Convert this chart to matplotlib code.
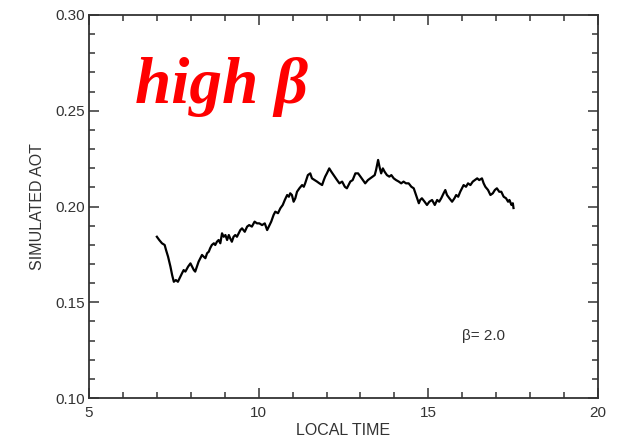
import matplotlib
matplotlib.use("Agg")
import matplotlib.pyplot as plt
from matplotlib.ticker import MultipleLocator

local_time = [
    7.00, 7.07, 7.15, 7.23, 7.27, 7.33, 7.40, 7.45, 7.50, 7.56, 7.62, 7.69, 7.74, 7.79,
    7.84, 7.92, 7.99, 8.04, 8.09, 8.13, 8.18, 8.23, 8.28, 8.33, 8.38, 8.43, 8.48, 8.53,
    8.57, 8.62, 8.68, 8.72, 8.77, 8.82, 8.87, 8.92, 8.97, 9.02, 9.07, 9.12, 9.16, 9.21,
    9.26, 9.31, 9.36, 9.41, 9.46,
    9.51, 9.59, 9.66, 9.72, 9.80, 9.88, 9.95, 10.02, 10.10, 10.18, 10.25, 10.30, 10.37,
    10.44, 10.49, 10.57, 10.64, 10.71, 10.77, 10.84, 10.89, 10.93, 10.98, 11.03, 11.08,
    11.13, 11.20, 11.28, 11.33, 11.37, 11.45, 11.52, 11.57, 11.65, 11.72, 11.79, 11.87,
    11.92, 11.96, 12.01, 12.08, 12.14,
    12.24, 12.31, 12.38, 12.46, 12.54, 12.60, 12.65, 12.70, 12.77, 12.85, 12.93, 13.00,
    13.07, 13.14, 13.22, 13.29, 13.36, 13.42, 13.46, 13.52, 13.56, 13.61, 13.66, 13.71,
    13.78, 13.85, 13.91, 13.98, 14.05, 14.13, 14.20, 14.27, 14.34, 14.42, 14.50, 14.57,
    14.62, 14.67, 14.72, 14.76,
    14.81, 14.89, 14.96, 15.03, 15.11, 15.19, 15.26, 15.32, 15.38, 15.45, 15.50, 15.55,
    15.62, 15.70, 15.77, 15.82, 15.88, 15.94, 15.99, 16.04, 16.11, 16.17, 16.24, 16.31,
    16.37, 16.44, 16.50, 16.58, 16.63, 16.68, 16.76, 16.83, 16.90, 16.96, 17.02, 17.09,
    17.15, 17.22, 17.29, 17.35, 17.39, 17.45, 17.49, 17.51]
simulated_aot = [
    0.1842, 0.1825, 0.1808, 0.1799, 0.1773, 0.1738, 0.1686, 0.1642, 0.1607, 0.1616,
    0.1607, 0.1633, 0.1651, 0.1668, 0.1660, 0.1686, 0.1703, 0.1686, 0.1668, 0.1660,
    0.1686, 0.1712, 0.1730, 0.1747, 0.1738, 0.1730, 0.1756, 0.1764, 0.1782, 0.1799,
    0.1808, 0.1799, 0.1816, 0.1825, 0.1808, 0.1860, 0.1842, 0.1851, 0.1825, 0.1851,
    0.1834, 0.1816, 0.1842, 0.1851, 0.1842, 0.1860, 0.1877,
    0.1886, 0.1868, 0.1895, 0.1903, 0.1895, 0.1921, 0.1912, 0.1912, 0.1903, 0.1912,
    0.1877, 0.1895, 0.1921, 0.1956, 0.1973, 0.1965, 0.1991, 0.2008, 0.2034, 0.2060,
    0.2051, 0.2069, 0.2060, 0.2025, 0.2043, 0.2077, 0.2095, 0.2112, 0.2103, 0.2121,
    0.2164, 0.2173, 0.2147, 0.2138, 0.2130, 0.2121, 0.2112, 0.2138, 0.2156, 0.2173,
    0.2199, 0.2182,
    0.2156, 0.2138, 0.2121, 0.2130, 0.2103, 0.2095, 0.2112, 0.2130, 0.2138, 0.2173,
    0.2173, 0.2156, 0.2138, 0.2121, 0.2138, 0.2147, 0.2156, 0.2164, 0.2191, 0.2243,
    0.2208, 0.2173, 0.2199, 0.2182, 0.2164, 0.2156, 0.2164, 0.2147, 0.2138, 0.2130,
    0.2121, 0.2130, 0.2121, 0.2121, 0.2103, 0.2095, 0.2069, 0.2043, 0.2017, 0.2034,
    0.2043, 0.2025, 0.2008, 0.2025, 0.2034, 0.2008, 0.2034, 0.2025, 0.2043, 0.2069,
    0.2086, 0.2060, 0.2043, 0.2025, 0.2043, 0.2060, 0.2051, 0.2077, 0.2095, 0.2112,
    0.2103, 0.2121, 0.2112, 0.2130, 0.2138, 0.2147, 0.2138, 0.2147, 0.2121, 0.2103,
    0.2086, 0.2060, 0.2069, 0.2086, 0.2095, 0.2077, 0.2077, 0.2051, 0.2043, 0.2025,
    0.2034, 0.2008, 0.2017, 0.1992]

x_ticks = [5, 10, 15, 20]
y_ticks = [0.10, 0.15, 0.20, 0.25, 0.30]

plt.rcParams['font.family'] = ['Liberation Sans', 'DejaVu Sans']

fig = plt.figure(figsize=(6.21, 4.42), dpi=100)
ax = fig.add_axes([89/621, 1-398/442, (598-89)/621, (398-15)/442])

ax.plot(local_time, simulated_aot, color="black", lw=1.6)

ax.set_xlim(5, 20)
ax.set_ylim(0.10, 0.30)
ax.set_xticks(x_ticks)
ax.set_yticks(y_ticks)
ax.set_xticklabels([str(t) for t in x_ticks])
ax.set_yticklabels([f"{t:.2f}" for t in y_ticks])
ax.xaxis.set_minor_locator(MultipleLocator(1))
ax.yaxis.set_minor_locator(MultipleLocator(0.01))
ax.tick_params(which="both", direction="in", top=True, right=True,
               labelsize=11, labelcolor="#333333", width=1.1, color="#333333")
ax.tick_params(which="major", length=7)
ax.tick_params(which="minor", length=4)
ax.tick_params(axis="x", which="major", pad=6)
ax.tick_params(axis="y", which="major", pad=3)
for s in ax.spines.values():
    s.set_linewidth(1.3)
    s.set_color("#333333")

ax.set_xlabel("LOCAL TIME", fontsize=11.5, color="#333333", labelpad=2)
ax.set_ylabel("SIMULATED AOT", fontsize=11.5, color="#333333", labelpad=7)

ax.text(0.090, 0.770, "high β", transform=ax.transAxes, color="red",
        fontsize=47, fontweight="bold", fontstyle="italic",
        family="Liberation Serif", ha="left", va="baseline")
ax.text(0.733, 0.162, "β= 2.0", transform=ax.transAxes, fontsize=11,
        color="#333333", ha="left", va="center")

fig.savefig("out.png", dpi=100)
